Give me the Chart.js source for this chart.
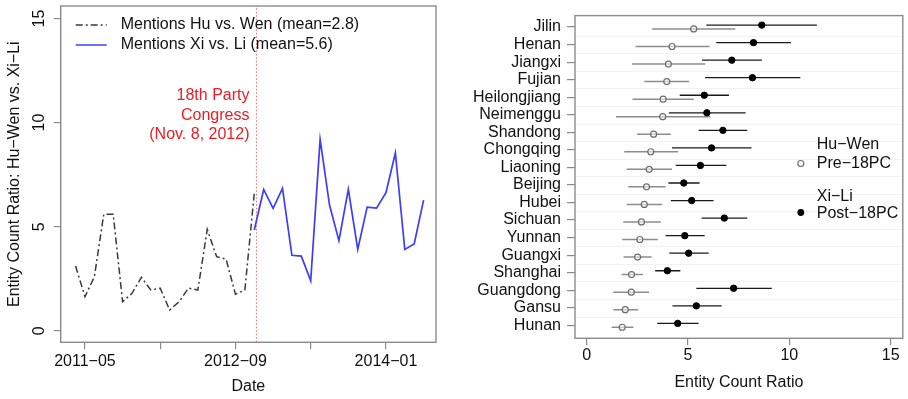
<!DOCTYPE html>
<html><head><meta charset="utf-8">
<script src="https://cdn.jsdelivr.net/npm/chart.js@4"></script>
<style>
html,body{margin:0;padding:0;background:#fff;overflow:hidden}
#wrap{position:relative;width:908px;height:399px;background:#fff}
canvas{position:absolute;top:0}
#c1{left:0}
#c2{left:454px}
</style></head><body>
<div id="wrap"><canvas id="c1" width="454" height="399"></canvas><canvas id="c2" width="454" height="399"></canvas></div>
<script>
// ---------- Left panel data ----------
const huWenDates = ['2011-04','2011-05','2011-06','2011-07','2011-08','2011-09','2011-10','2011-11','2011-12','2012-01',
                    '2012-02','2012-03','2012-04','2012-05','2012-06','2012-07','2012-08','2012-09','2012-10','2012-11'];
const huWenRatio = [3.11,1.64,2.60,5.60,5.60,1.40,1.80,2.57,1.96,2.05,1.00,1.40,2.05,1.96,4.87,3.56,3.45,1.76,1.96,6.60];
const xiLiDates = ['2012-11','2012-12','2013-01','2013-02','2013-03','2013-04','2013-05','2013-06','2013-07','2013-08',
                   '2013-09','2013-10','2013-11','2013-12','2014-01','2014-02','2014-03','2014-04','2014-05'];
const xiLiRatio = [4.84,6.79,5.88,6.84,3.63,3.59,2.40,9.19,6.04,4.33,6.80,3.91,5.94,5.89,6.63,8.54,3.91,4.17,6.28];
const dateTicks = ['2011-05','2012-01','2012-09','2013-05','2014-01'];
const dateTickLabels = ['2011\u221205','','2012\u221209','','2014\u221201'];
const ratioTicks = [0,5,10,15];
const congressDate = '2012-11-08';
const legendLabels = ['Mentions Hu vs. Wen (mean=2.8)','Mentions Xi vs. Li (mean=5.6)'];
const congressText = ['18th Party','Congress','(Nov. 8, 2012)'];

// ---------- Right panel data ----------
const provinces = ['Jilin','Henan','Jiangxi','Fujian','Heilongjiang','Neimenggu','Shandong','Chongqing','Liaoning','Beijing',
                   'Hubei','Sichuan','Yunnan','Guangxi','Shanghai','Guangdong','Gansu','Hunan'];
const huWenMean = [5.28,4.21,4.03,3.95,3.77,3.75,3.30,3.16,3.08,2.95,2.84,2.70,2.62,2.51,2.21,2.20,1.90,1.75];
const huWenLow  = [3.23,2.41,2.23,2.84,2.26,1.44,2.48,1.85,1.97,2.05,1.97,1.80,1.75,1.82,1.72,1.31,1.31,1.23];
const huWenHigh = [7.33,6.07,5.85,5.05,5.28,6.10,4.15,4.51,4.21,3.89,3.72,3.66,3.51,3.20,2.77,3.08,2.54,2.30];
const xiLiMean  = [8.64,8.23,7.16,8.18,5.80,5.93,6.72,6.16,5.61,4.79,5.18,6.79,4.84,5.03,3.98,7.25,5.41,4.49];
const xiLiLow   = [5.90,6.39,5.69,5.84,4.59,4.05,5.52,4.21,4.39,4.03,4.15,5.67,3.89,4.07,3.38,5.41,4.23,3.48];
const xiLiHigh  = [11.36,10.08,8.64,10.54,7.02,7.84,7.92,8.13,6.89,5.57,6.26,7.92,5.82,6.02,4.62,9.13,6.66,5.52];
const countTicks = [0,5,10,15];

// ---------- helpers ----------
const FONT = '"Liberation Sans", Arial, Helvetica, sans-serif';
const TXT = '#111';
const BOX = '#8a8a8a';
function toMonth(s){ const p = s.split('-').map(Number); return (p[0]-2011)*12 + (p[1]-1) + (p[2] ? (p[2]-1)/30 : 0); }
const congressX = toMonth(congressDate);

const boxPlugin = {
  id: 'box',
  afterDraw(chart){
    const a = chart.chartArea, ctx = chart.ctx;
    ctx.save();
    ctx.strokeStyle = BOX; ctx.lineWidth = 1.4;
    ctx.strokeRect(a.left, a.top, a.right - a.left, a.bottom - a.top);
    ctx.restore();
  }
};

// ---------- Left chart ----------
const leftDecor = {
  id: 'leftDecor',
  afterDraw(chart){
    const ctx = chart.ctx, ys = chart.scales.y, xs = chart.scales.x, a = chart.chartArea;
    ctx.save();
    ctx.font = '16px ' + FONT;
    ctx.fillStyle = TXT;
    ys.ticks.forEach(t => {
      const py = ys.getPixelForValue(t.value);
      ctx.save();
      ctx.translate(a.left - 21, py);
      ctx.rotate(-Math.PI/2);
      ctx.textAlign = 'center'; ctx.textBaseline = 'middle';
      ctx.fillText(String(t.value), 0, 0);
      ctx.restore();
    });
    const lx0 = a.left + 15, lx1 = a.left + 46, tx = a.left + 60;
    const ly = [a.top + 19, a.top + 39];
    ctx.lineWidth = 1.5; ctx.strokeStyle = '#3a3a3a'; ctx.setLineDash([7,3,2,3]);
    ctx.beginPath(); ctx.moveTo(lx0, ly[0]); ctx.lineTo(lx1, ly[0]); ctx.stroke();
    ctx.setLineDash([]); ctx.strokeStyle = '#3c3cff';
    ctx.beginPath(); ctx.moveTo(lx0, ly[1]); ctx.lineTo(lx1, ly[1]); ctx.stroke();
    ctx.textAlign = 'left'; ctx.textBaseline = 'middle'; ctx.fillStyle = TXT;
    ctx.fillText(legendLabels[0], tx, ly[0]);
    ctx.fillText(legendLabels[1], tx, ly[1]);
    ctx.fillStyle = '#ec1c24'; ctx.textAlign = 'right';
    const rx = xs.getPixelForValue(congressX) - 7;
    [96,116,135].forEach((y,i) => ctx.fillText(congressText[i], rx, y));
    ctx.restore();
  }
};

new Chart(document.getElementById('c1'), {
  type: 'line',
  data: {
    datasets: [
      { label: legendLabels[0], data: huWenDates.map((d,i) => ({x: toMonth(d), y: huWenRatio[i]})),
        borderColor: '#3a3a3a', borderWidth: 1.5, borderDash: [7,3,2,3], pointRadius: 0, tension: 0 },
      { label: legendLabels[1], data: xiLiDates.map((d,i) => ({x: toMonth(d), y: xiLiRatio[i]})),
        borderColor: '#3c3cff', borderWidth: 1.7, pointRadius: 0, tension: 0 },
      { label: 'congress', data: [{x: congressX, y: -0.55}, {x: congressX, y: 15.6}],
        borderColor: 'rgba(240,60,60,0.75)', borderWidth: 1, borderDash: [1.5,2], pointRadius: 0 }
    ]
  },
  options: {
    responsive: false, animation: false, devicePixelRatio: 1,
    layout: { padding: { top: 6, right: 18, left: 0, bottom: 0 } },
    plugins: { legend: { display: false }, tooltip: { enabled: false } },
    scales: {
      x: {
        type: 'linear', min: 1.42, max: 41.32,
        afterBuildTicks: s => { s.ticks = dateTicks.map(d => ({ value: toMonth(d) })); },
        afterFit: s => { s.height = 56.7; },
        ticks: { autoSkip: false, maxRotation: 0, minRotation: 0, padding: 3, color: TXT,
                 font: { family: FONT, size: 16 },
                 callback: (v) => { const k = dateTicks.findIndex(d => toMonth(d) === v); return k >= 0 ? dateTickLabels[k] : ''; } },
        grid: { drawOnChartArea: false, drawTicks: true, tickLength: 7, color: BOX, lineWidth: 1.2 },
        border: { display: false },
        title: { display: true, text: 'Date', color: TXT, font: { family: FONT, size: 16 }, padding: { top: 0, bottom: 2.7 } }
      },
      y: {
        type: 'linear', min: -0.55, max: 15.6,
        afterBuildTicks: s => { s.ticks = ratioTicks.map(v => ({ value: v })); },
        afterFit: s => { s.width = 60.7; },
        ticks: { display: false },
        grid: { drawOnChartArea: false, drawTicks: true, tickLength: 7, color: BOX, lineWidth: 1.2 },
        border: { display: false },
        title: { display: true, text: 'Entity Count Ratio: Hu\u2212Wen vs. Xi\u2212Li', color: TXT,
                 font: { family: FONT, size: 16 }, padding: { top: 5.4, bottom: 0 } }
      }
    }
  },
  plugins: [boxPlugin, leftDecor]
});

// ---------- Right chart ----------
const rowOf = i => provinces.length - i;
const rightDecor = {
  id: 'rightDecor',
  beforeDatasetsDraw(chart){
    const ctx = chart.ctx, ys = chart.scales.y, a = chart.chartArea;
    ctx.save();
    ctx.strokeStyle = '#f2f2f2'; ctx.lineWidth = 1;
    for (let r = 1.5; r < provinces.length; r += 1) {
      const py = Math.round(ys.getPixelForValue(r)) + 0.5;
      ctx.beginPath(); ctx.moveTo(a.left, py); ctx.lineTo(a.right, py); ctx.stroke();
    }
    ctx.restore();
  },
  afterDraw(chart){
    const ctx = chart.ctx, a = chart.chartArea;
    ctx.save();
    ctx.font = '16px ' + FONT; ctx.fillStyle = TXT; ctx.textAlign = 'left'; ctx.textBaseline = 'middle';
    const tx = a.right - 86, cx = a.right - 102;
    ctx.fillText('Hu\u2212Wen', tx, 145);
    ctx.fillText('Pre\u221218PC', tx, 163.5);
    ctx.fillText('Xi\u2212Li', tx, 197);
    ctx.fillText('Post\u221218PC', tx, 214);
    ctx.beginPath(); ctx.arc(cx, 163.5, 3.0, 0, Math.PI*2);
    ctx.strokeStyle = '#6e6e6e'; ctx.lineWidth = 1.2; ctx.stroke();
    ctx.beginPath(); ctx.arc(cx, 212.5, 3.4, 0, Math.PI*2);
    ctx.fillStyle = '#000'; ctx.fill();
    ctx.restore();
  }
};

const rightDatasets = [
  { type: 'scatter', label: 'Post-18PC', data: provinces.map((p,i) => ({x: xiLiMean[i], y: rowOf(i) + 0.11})),
    pointRadius: 3.2, pointBackgroundColor: '#000', pointBorderColor: '#000', pointBorderWidth: 1 },
  { type: 'scatter', label: 'Pre-18PC', data: provinces.map((p,i) => ({x: huWenMean[i], y: rowOf(i) - 0.11})),
    pointRadius: 3.0, pointBackgroundColor: 'rgba(255,255,255,0.55)', pointBorderColor: '#6e6e6e', pointBorderWidth: 1.2 }
];
provinces.forEach((p,i) => {
  rightDatasets.push({ type: 'line', label: p + ' Xi-Li CI',
    data: [{x: xiLiLow[i], y: rowOf(i) + 0.11}, {x: xiLiHigh[i], y: rowOf(i) + 0.11}],
    borderColor: '#1a1a1a', borderWidth: 1.3, pointRadius: 0 });
});
provinces.forEach((p,i) => {
  rightDatasets.push({ type: 'line', label: p + ' Hu-Wen CI',
    data: [{x: huWenLow[i], y: rowOf(i) - 0.11}, {x: huWenHigh[i], y: rowOf(i) - 0.11}],
    borderColor: '#8c8c8c', borderWidth: 1.5, pointRadius: 0 });
});

new Chart(document.getElementById('c2'), {
  type: 'scatter',
  data: { datasets: rightDatasets },
  options: {
    responsive: false, animation: false, devicePixelRatio: 1,
    layout: { padding: { top: 7.3, right: 4, left: 0, bottom: 0 } },
    plugins: { legend: { display: false }, tooltip: { enabled: false } },
    scales: {
      x: {
        type: 'linear', min: -0.58, max: 15.6,
        afterBuildTicks: s => { s.ticks = countTicks.map(v => ({ value: v })); },
        afterFit: s => { s.height = 60.7; },
        ticks: { autoSkip: false, maxRotation: 0, minRotation: 0, padding: 1, color: TXT, font: { family: FONT, size: 16 } },
        grid: { drawOnChartArea: false, drawTicks: true, tickLength: 7, color: BOX, lineWidth: 1.2 },
        border: { display: false },
        title: { display: true, text: 'Entity Count Ratio', color: TXT, font: { family: FONT, size: 16 }, padding: { top: 0, bottom: 6.7 } }
      },
      y: {
        type: 'linear', min: 0.26, max: 18.65,
        afterBuildTicks: s => { s.ticks = provinces.map((p,i) => ({ value: rowOf(i) })); },
        afterFit: s => { s.width = 121; },
        ticks: { autoSkip: false, padding: 6, color: TXT, font: { family: FONT, size: 16 },
                 callback: v => provinces[provinces.length - v] },
        grid: { drawOnChartArea: false, drawTicks: true, tickLength: 8, color: BOX, lineWidth: 1.2 },
        border: { display: false }
      }
    }
  },
  plugins: [boxPlugin, rightDecor]
});
</script>
</body></html>
